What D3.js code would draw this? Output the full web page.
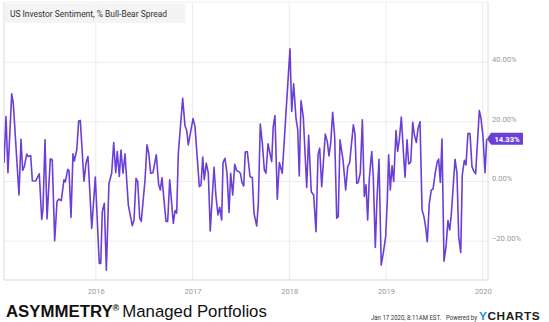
<!DOCTYPE html>
<html><head><meta charset="utf-8">
<script src="https://cdn.jsdelivr.net/npm/d3@7"></script>
<style>body{margin:0;background:#fff;}svg{display:block;font-family:Roboto,"Liberation Sans",Arial,sans-serif;}</style>
</head><body><svg id="c" width="549" height="322"></svg>
<script>
// time in decimal years, value in % (bull minus bear)
const times = [2015.051,2015.072,2015.092,2015.131,2015.147,2015.206,2015.227,2015.244,2015.261,2015.286,2015.302,2015.327,2015.344,2015.379,2015.416,2015.441,2015.454,2015.475,2015.496,2015.530,2015.550,2015.575,2015.599,2015.617,2015.643,2015.671,2015.685,2015.710,2015.723,2015.744,2015.764,2015.778,2015.803,2015.823,2015.840,2015.878,2015.899,2015.919,2015.958,2015.995,
2016.036,2016.051,2016.067,2016.088,2016.109,2016.136,2016.164,2016.185,2016.206,2016.222,2016.243,2016.260,2016.281,2016.302,2016.319,2016.336,2016.377,2016.395,2016.416,2016.433,2016.454,2016.470,2016.509,2016.529,2016.547,2016.567,2016.591,2016.625,2016.650,2016.667,2016.684,2016.708,2016.726,2016.743,2016.764,2016.801,2016.819,2016.836,2016.853,2016.898,2016.922,2016.940,2016.956,
2017.005,2017.025,2017.070,2017.087,2017.105,2017.121,2017.142,2017.163,2017.183,2017.222,2017.242,2017.263,2017.281,2017.301,2017.315,2017.335,2017.356,2017.377,2017.394,2017.415,2017.436,2017.456,2017.477,2017.494,2017.511,2017.529,2017.545,2017.566,2017.594,2017.618,2017.635,2017.663,2017.680,2017.700,2017.721,2017.742,2017.759,2017.780,2017.801,2017.818,2017.834,2017.852,2017.876,2017.897,2017.927,
2018.007,2018.025,2018.045,2018.069,2018.087,2018.103,2018.121,2018.145,2018.180,2018.200,2018.227,2018.252,2018.276,2018.297,2018.314,2018.335,2018.372,2018.393,2018.410,2018.428,2018.448,2018.469,2018.490,2018.506,2018.524,2018.555,2018.583,2018.604,2018.624,2018.662,2018.679,2018.697,2018.713,2018.734,2018.755,2018.775,2018.793,2018.810,2018.827,2018.852,2018.868,2018.889,2018.906,2018.927,2018.950,2018.971,2018.996,
2019.013,2019.027,2019.044,2019.062,2019.079,2019.103,2019.120,2019.137,2019.158,2019.178,2019.196,2019.217,2019.234,2019.255,2019.276,2019.292,2019.313,2019.330,2019.351,2019.372,2019.392,2019.410,2019.426,2019.447,2019.468,2019.485,2019.509,2019.530,2019.544,2019.561,2019.578,2019.599,2019.620,2019.640,2019.658,2019.674,2019.713,2019.733,2019.751,2019.772,2019.788,2019.809,2019.826,2019.847,2019.868,2019.888,2019.906,2019.926,2019.964,2019.981,
2020.002,2020.023,2020.040];
const values = [6.2,21.8,3.0,29.4,26.3,-4.5,14.2,3.7,5.0,9.2,8.4,8.7,0.3,0.2,2.6,-12.7,-9.3,14.0,-12.5,7.6,7.3,-19.8,-6.7,-5.9,-6.4,0.6,-0.1,4.1,3.7,-12.0,9.3,6.9,10.6,20.3,20.5,0.1,6.2,8.4,-15.7,1.5,
-27.5,-27.5,-10.1,-7.3,-29.7,-0.6,2.8,13.1,3.0,10.1,1.7,10.6,2.8,9.3,0.6,-7.8,-14.8,-12.9,1.1,0.0,-12.3,-13.4,0.6,12.3,9.5,2.8,3.0,9.0,-1.1,-2.8,1.3,-7.3,-13.4,-13.4,0.6,-14.0,-9.7,-10.6,9.5,27.9,18.7,17.1,12.3,
21.1,18.5,-1.7,-1.3,8.2,0.6,6.2,2.8,-16.6,4.8,-5.0,-11.2,-8.6,-12.9,6.4,7.8,2.8,-10.4,2.8,-4.5,5.8,3.6,3.4,2.8,-0.3,-1.5,9.9,10.1,1.7,1.3,-10.6,-14.9,-7.3,19.3,12.9,3.9,2.8,12.7,9.3,6.7,18.5,22.1,-5.9,6.4,2.8,
44.5,23.5,32.8,21.3,17.4,1.9,27.1,21.5,-2.0,15.5,-3.4,-4.5,-16.8,9.0,11.2,-1.7,15.9,13.4,8.6,12.9,23.2,15.1,-12.3,-11.8,14.0,7.3,-2.8,5.0,6.4,19.0,15.9,-0.6,-0.3,3.0,20.7,-5.0,-1.1,-12.9,1.1,10.1,1.7,-22.1,-6.2,7.5,-28.0,-24.1,-18.5,
-6.2,9.0,-2.8,5.3,0.0,17.1,10.1,14.0,21.6,10.6,1.5,14.0,5.9,6.5,19.9,15.7,13.1,17.7,20.1,-9.5,-11.8,-15.5,-20.2,-7.3,-2.8,-2.6,3.0,6.7,7.5,-0.3,14.3,-26.7,-21.8,-13.1,-16.2,-11.2,7.5,2.8,-18.5,-23.8,2.2,7.1,5.6,16.2,16.0,5.0,3.6,2.6,23.8,21.3,
15.1,3.0,14.33];
const xTicks = [2016, 2017, 2018, 2019, 2020];
const yTicks = [-20, 0, 20, 40];
const lastValue = 14.33;
const title = "US Investor Sentiment, % Bull-Bear Spread";

const svg = d3.select("#c");
const L = 4, R = 488, T = 2, B = 280;
const x = d3.scaleLinear().domain([2016, 2020]).range([95.8, 482.8]);
const y = d3.scaleLinear().domain([-20, 40]).range([241.2, 62.3]);

// gridlines
svg.append("g").selectAll("line").data(yTicks).join("line")
  .attr("x1", L).attr("x2", R).attr("y1", d => y(d)).attr("y2", d => y(d))
  .attr("stroke", "#ececec").attr("stroke-width", 1);
svg.append("g").selectAll("line").data(xTicks).join("line")
  .attr("x1", d => x(d)).attr("x2", d => x(d)).attr("y1", T).attr("y2", B)
  .attr("stroke", "#ececec").attr("stroke-width", 1);

// frame
svg.append("line").attr("x1", L).attr("x2", L).attr("y1", T).attr("y2", B).attr("stroke", "#dcdcdc");
svg.append("line").attr("x1", R).attr("x2", R).attr("y1", T).attr("y2", B).attr("stroke", "#dcdcdc");
svg.append("line").attr("x1", L).attr("x2", R).attr("y1", B).attr("y2", B).attr("stroke", "#d6d6d6");
svg.append("line").attr("x1", L).attr("x2", R).attr("y1", T).attr("y2", T).attr("stroke", "#eeeeee");

// title box
svg.append("rect").attr("x", L + 0.5).attr("y", T + 1.5).attr("width", 181).attr("height", 19.5).attr("fill", "#f4f4f4");
svg.append("text").attr("x", 10).attr("y", 17.2).attr("font-size", 9.2).attr("fill", "#333")
  .attr("textLength", 157).attr("lengthAdjust", "spacingAndGlyphs").text(title);

// clip
svg.append("clipPath").attr("id", "clip").append("rect").attr("x", L).attr("y", T).attr("width", R - L).attr("height", B - T);

const line = d3.line().x((d, i) => x(times[i])).y(d => y(d));
svg.append("path").datum(values).attr("clip-path", "url(#clip)")
  .attr("d", line).attr("fill", "none").attr("stroke", "#6b3fd6").attr("stroke-width", 1.6).attr("stroke-linejoin", "round");

// y axis labels (right)
const yAxis = d3.axisRight(y).tickValues(yTicks).tickSize(0).tickPadding(0).tickFormat(d => d3.format(".2f")(d) + "%");
const gy = svg.append("g").attr("transform", `translate(492,0)`).call(yAxis);
gy.select(".domain").remove();
gy.selectAll("text").attr("font-size", 7.6).attr("fill", "#9a9a9a").attr("font-family", "Roboto, sans-serif")
  .attr("dy", -0.8).attr("dominant-baseline", "auto").attr("y", 0);

// x axis labels
const xAxis = d3.axisBottom(x).tickValues(xTicks).tickSize(0).tickPadding(0).tickFormat(d3.format("d"));
const gx = svg.append("g").attr("transform", `translate(0,${B})`).call(xAxis);
gx.select(".domain").remove();
gx.selectAll("text").attr("font-size", 7.6).attr("fill", "#9a9a9a").attr("font-family", "Roboto, sans-serif").attr("dy", 0).attr("y", 14);

// last value badge
const by = y(lastValue);
svg.append("path").attr("d", `M${R - 1},${by} L${R + 3},${by - 6} L${523},${by - 6} L${523},${by + 6} L${R + 3},${by + 6} Z`).attr("fill", "#6b3fd6");
svg.append("text").attr("x", 507).attr("y", by + 2.7).attr("text-anchor", "middle").attr("font-size", 7.6).attr("font-weight", "bold").attr("fill", "#fff").text(d3.format(".2f")(lastValue) + "%");

// branding
const brand = svg.append("text").attr("x", 6).attr("y", 316.5).attr("fill", "#111").attr("font-family", "'Liberation Sans', Arial, sans-serif");
brand.append("tspan").attr("font-size", 16.8).attr("font-weight", "bold").text("ASYMMETRY");
brand.append("tspan").attr("font-size", 9).attr("font-weight", "bold").attr("dy", -6).text("®");
brand.append("tspan").attr("font-size", 16.8).attr("dy", 6).attr("dx", 3).text("Managed Portfolios");

svg.append("text").attr("x", 371).attr("y", 319.5).attr("font-size", 6.6).attr("fill", "#333").attr("textLength", 70).attr("lengthAdjust", "spacingAndGlyphs").text("Jan 17 2020, 8:11AM EST.");
svg.append("text").attr("x", 446).attr("y", 319.5).attr("font-size", 6.6).attr("fill", "#333").attr("textLength", 31).attr("lengthAdjust", "spacingAndGlyphs").text("Powered by");
const yc = svg.append("text").attr("x", 479).attr("y", 320.3).attr("font-size", 11.8).attr("font-weight", "bold").attr("letter-spacing", 0.6).attr("font-family", "'Liberation Sans', Arial, sans-serif");
yc.append("tspan").attr("fill", "#1a8fe3").text("Y");
yc.append("tspan").attr("fill", "#1d1d1d").text("CHARTS");
</script></body></html>
